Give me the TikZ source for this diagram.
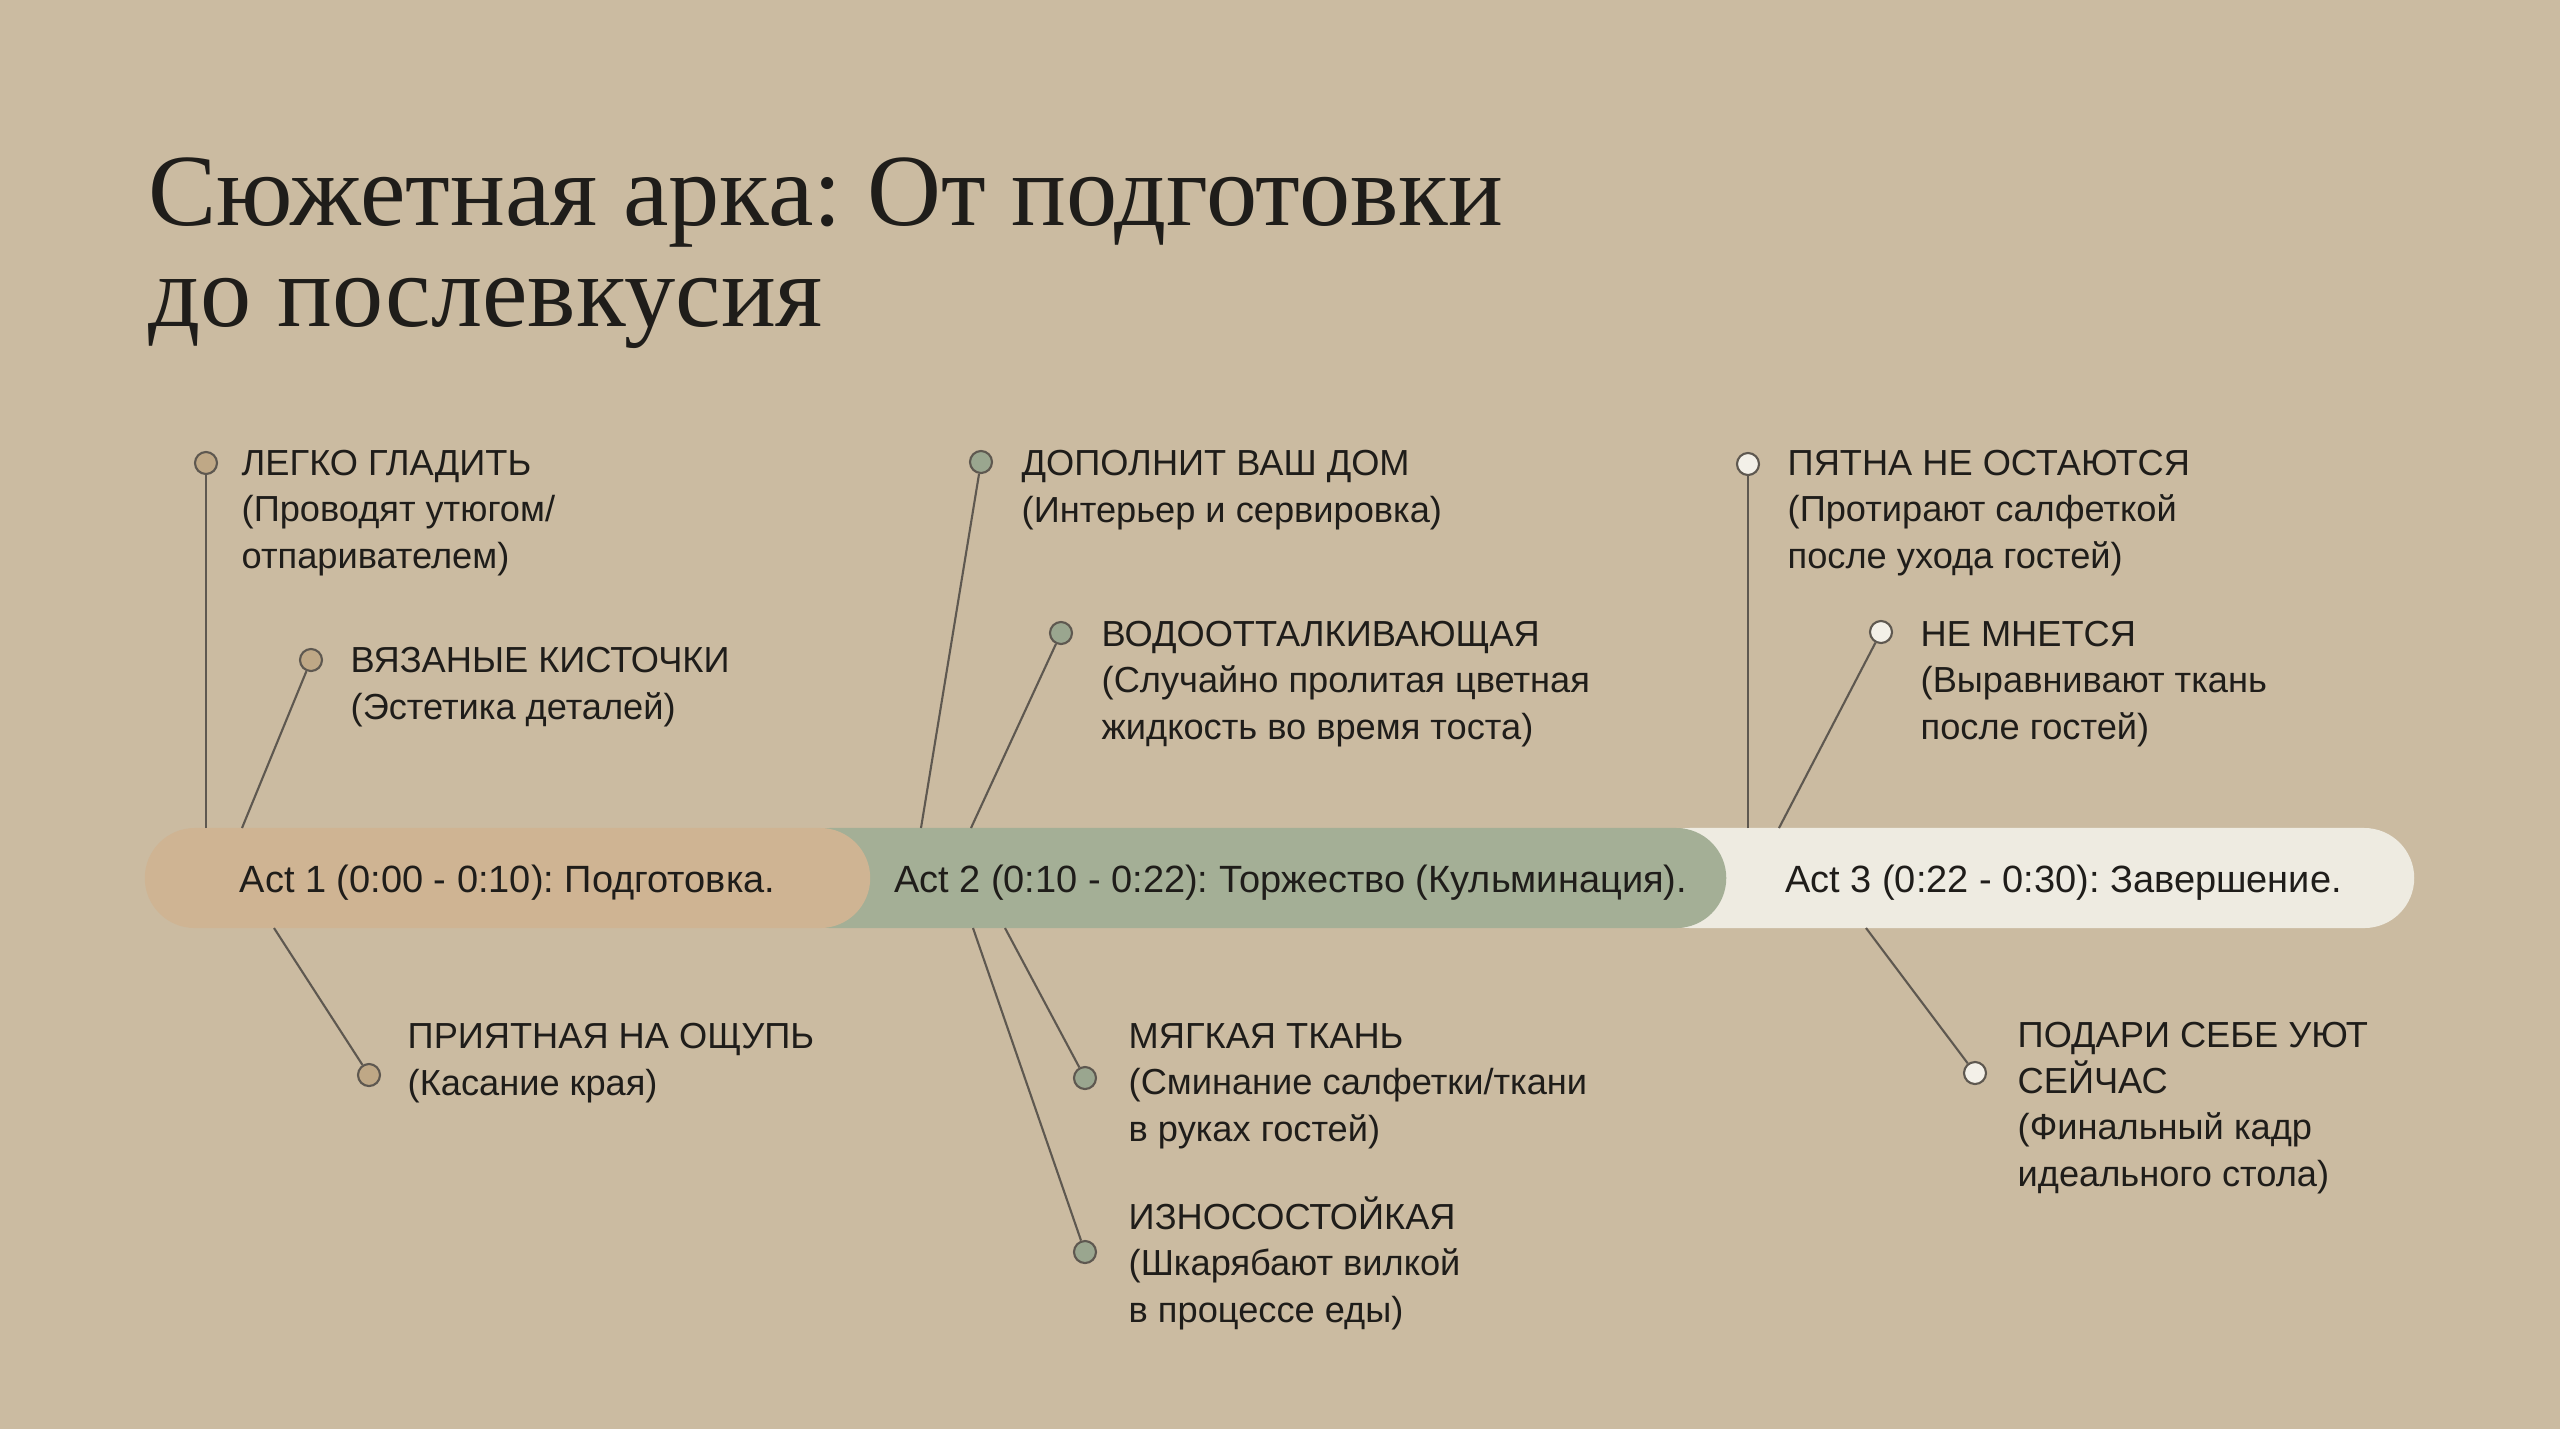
\documentclass[tikz,border=0pt]{standalone}
\usepackage{fontspec}
\setmainfont{Liberation Sans}
\newfontfamily\titlefont{Liberation Serif}
\frenchspacing
\definecolor{paper}{HTML}{CBBBA1}
\definecolor{ink}{HTML}{1F1D1A}
\definecolor{wirecol}{HTML}{5E5850}
\definecolor{actonecol}{HTML}{CFB493}
\definecolor{acttwocol}{HTML}{A4AF96}
\definecolor{actthreecol}{HTML}{EEEBE1}
\definecolor{beadone}{HTML}{BFA886}
\definecolor{beadtwo}{HTML}{9AA68F}
\definecolor{beadthree}{HTML}{F3F0E8}

\begin{document}
\begin{tikzpicture}[x=0.01cm,y=-0.01cm,
  actbar/.style={rectangle,rounded corners=0.5cm,minimum height=1cm,inner sep=0pt},
  acttext/.style={anchor=base,inner sep=0pt,font=\fontsize{10.8}{13}\selectfont,text=ink},
  note/.style={anchor=base west,inner sep=0pt,align=left,font=\fontsize{10.3}{13.1}\selectfont,text=ink},
  bead/.style={circle,draw=wirecol,line width=0.6pt,minimum size=0.22cm,inner sep=0pt,fill=#1},
  wire/.style={draw=wirecol,line width=0.6pt}]
\fill[paper] (0,0) rectangle (2560,1429);
\useasboundingbox (0,0) rectangle (2560,1429);
% title (base = last line)
\node[anchor=base west,inner sep=0pt,align=left,text=ink,
  font=\titlefont\fontsize{29.1}{28.45}\selectfont] (title) at (148,326)
  {Сюжетная арка: От подготовки\\до послевкусия};
% timeline bar
\node[actbar,fill=actthreecol,minimum width=7.74cm] (act3) at (2027,878) {};
\node[actbar,fill=acttwocol,minimum width=9.46cm] (act2) at (1253,878) {};
\node[actbar,fill=actonecol,minimum width=7.25cm] (act1) at (507.5,878) {};
\node[acttext] (act1txt) at (507.5,892) {Act 1 (0:00 - 0:10): Подготовка.};
\node[acttext] (act2txt) at (1290.5,892) {Act 2 (0:10 - 0:22): Торжество (Кульминация).};
\node[acttext] (act3txt) at (2063.5,892) {Act 3 (0:22 - 0:30): Завершение.};
% act 1
\coordinate (b11) at (206,828);
\coordinate (b12) at (242,828);
\coordinate (b13) at (274,928);
\node[bead=beadone] (d11) at (206,463) {};
\node[bead=beadone] (d12) at (311,660) {};
\node[bead=beadone] (d13) at (369,1075) {};
\draw[wire] (b11) -- (d11);
\draw[wire] (b12) -- (d12);
\draw[wire] (b13) -- (d13);
\node[note] (n11) at (241,568) {ЛЕГКО ГЛАДИТЬ\\(Проводят утюгом/\\отпаривателем)};
\node[note] (n12) at (350,719) {ВЯЗАНЫЕ КИСТОЧКИ\\(Эстетика деталей)};
\node[note] (n13) at (407,1095) {ПРИЯТНАЯ НА ОЩУПЬ\\(Касание края)};
% act 2
\coordinate (b21) at (921,828);
\coordinate (b22) at (971,828);
\coordinate (b23) at (1005,928);
\coordinate (b24) at (973,928);
\node[bead=beadtwo] (d21) at (981,462) {};
\node[bead=beadtwo] (d22) at (1061,633) {};
\node[bead=beadtwo] (d23) at (1085,1078) {};
\node[bead=beadtwo] (d24) at (1085,1252) {};
\draw[wire] (b21) -- (d21);
\draw[wire] (b22) -- (d22);
\draw[wire] (b23) -- (d23);
\draw[wire] (b24) -- (d24);
\node[note] (n21) at (1021,522) {ДОПОЛНИТ ВАШ ДОМ\\(Интерьер и сервировка)};
\node[note] (n22) at (1101,739) {ВОДООТТАЛКИВАЮЩАЯ\\(Случайно пролитая цветная\\жидкость во время тоста)};
\node[note] (n23) at (1128,1141) {МЯГКАЯ ТКАНЬ\\(Сминание салфетки/ткани\\в руках гостей)};
\node[note] (n24) at (1128,1322) {ИЗНОСОСТОЙКАЯ\\(Шкарябают вилкой\\в процессе еды)};
% act 3
\coordinate (b31) at (1748,828);
\coordinate (b32) at (1779,828);
\coordinate (b33) at (1866,928);
\node[bead=beadthree] (d31) at (1748,464) {};
\node[bead=beadthree] (d32) at (1881,632) {};
\node[bead=beadthree] (d33) at (1975,1073) {};
\draw[wire] (b31) -- (d31);
\draw[wire] (b32) -- (d32);
\draw[wire] (b33) -- (d33);
\node[note] (n31) at (1787,568) {ПЯТНА НЕ ОСТАЮТСЯ\\(Протирают салфеткой\\после ухода гостей)};
\node[note] (n32) at (1920,739) {НЕ МНЕТСЯ\\(Выравнивают ткань\\после гостей)};
\node[note] (n33) at (2017,1186) {ПОДАРИ СЕБЕ УЮТ\\СЕЙЧАС\\(Финальный кадр\\идеального стола)};
\end{tikzpicture}
\end{document}
